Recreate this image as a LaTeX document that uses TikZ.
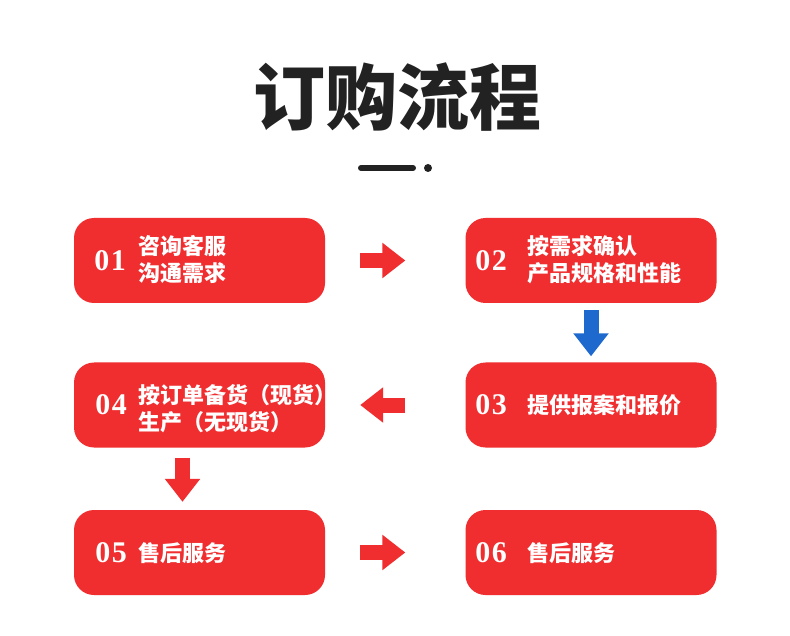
\documentclass[tikz,border=0pt]{standalone}
\usepackage{fontspec}
\newfontfamily\cjk{Noto Sans CJK SC}
\newfontfamily\numfont{Liberation Serif}[LetterSpace=5]
\usepackage{xcolor}
\usetikzlibrary{arrows.meta, positioning}
\definecolor{boxred}{RGB}{240,45,47}
\definecolor{flowblue}{RGB}{30,105,205}
\definecolor{titlegray}{RGB}{34,34,34}
\tikzset{
    stepbox/.style={fill=boxred, draw=none, rounded corners=20pt, minimum width=251pt, minimum height=85pt, inner sep=0pt},
    stepnum/.style={text=white, inner sep=0pt, font=\numfont\bfseries\fontsize{30}{30}\selectfont},
    steptext/.style={text=white, anchor=west, align=left, inner sep=0pt, font=\cjk\bfseries\fontsize{22}{27}\selectfont},
    flowarrow/.style={line width=15pt, -{Triangle[width=34pt,length=23pt]}, boxred}
}

\begin{document}
\begin{tikzpicture}[x=1pt, y=-1pt]
    % Page
    \fill[white] (0,0) rectangle (790,636);
    \useasboundingbox (0,0) rectangle (790,636);

    % Title and mark under it
    \node[text=titlegray, font=\cjk\bfseries\fontsize{72}{72}\selectfont] (title) at (397,97) {订购流程};
    \draw[titlegray, line width=6pt, line cap=round] (361,168) -- (413,168);
    \fill[titlegray] (428,168) circle (4);

    % Step boxes
    \node[stepbox] (b1) at (199.5,260.5) {};
    \node[stepbox] (b2) at (591,260.5) {};
    \node[stepbox] (b3) at (591,405) {};
    \node[stepbox] (b4) at (199.5,405) {};
    \node[stepbox] (b5) at (199.5,552.5) {};
    \node[stepbox] (b6) at (591,552.5) {};

    % Numbers
    \node[stepnum] (n1) at (110,261) {01};
    \node[stepnum] (n2) at (491,261) {02};
    \node[stepnum] (n3) at (491,405) {03};
    \node[stepnum] (n4) at (111,405) {04};
    \node[stepnum] (n5) at (111,553) {05};
    \node[stepnum] (n6) at (491,553) {06};

    % Texts
    \node[steptext] (t1) at (138,260) {咨询客服\\沟通需求};
    \node[steptext] (t2) at (527,260) {按需求确认\\产品规格和性能};
    \node[steptext] (t3) at (527,405) {提供报案和报价};
    \node[steptext] (t4) at (138,409) {按订单备货（现货）\\生产（无现货）};
    \node[steptext] (t5) at (138,553) {售后服务};
    \node[steptext] (t6) at (527,553) {售后服务};

    % Arrows between steps
    \draw[flowarrow, shorten <=35pt, shorten >=60pt] (b1.east) -- (b2.west);
    \draw[flowarrow, flowblue, shorten <=7pt, shorten >=6pt] (b2.south) -- (b3.north);
    \draw[flowarrow, shorten <=60pt, shorten >=35pt] (b3.west) -- (b4.east);
    \draw[flowarrow, shorten <=10pt, shorten >=8pt] ([xshift=-17pt]b4.south) -- ([xshift=-17pt]b5.north);
    \draw[flowarrow, shorten <=35pt, shorten >=60pt] (b5.east) -- (b6.west);
\end{tikzpicture}
\end{document}
